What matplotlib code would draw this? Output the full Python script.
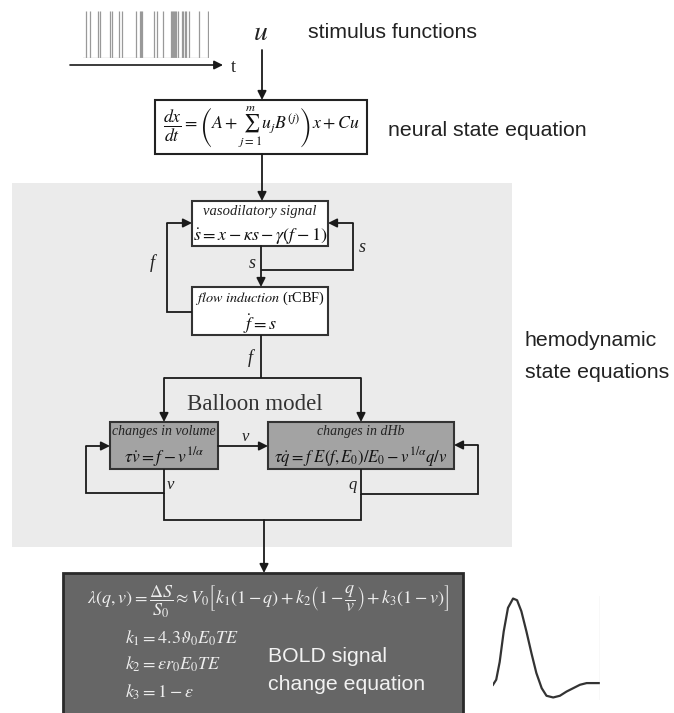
import matplotlib.pyplot as plt
from matplotlib.patches import Rectangle

plt.rcParams['mathtext.fontset'] = 'stix'
plt.rcParams['font.family'] = ['Liberation Sans', 'DejaVu Sans']

# stimulus onsets (arbitrary time units, 0-100)
spike_times = [2.6, 5.3, 11.8, 13.7, 21.1, 23.4, 28.9, 31.1, 42.1, 45.3, 46.1, 46.8,
               56.6, 58.9, 63.7, 69.7, 70.5, 71.6, 72.4, 73.2, 74.2, 75.0, 78.2,
               79.5, 80.8, 82.1, 83.9, 92.1, 99.2]

# BOLD response sketch (s, normalised signal)
bold_t = [0, 0.6, 1.25, 2.0, 2.8, 3.75, 4.5, 5.3, 6.25, 7.2, 8.1, 9.1, 10,
          11.25, 12.5, 13.75, 15, 16.25, 17.5, 19.1, 20]
bold_y = [-0.02, 0.04, 0.25, 0.61, 0.89, 1.0, 0.98, 0.85, 0.61, 0.35, 0.12, -0.06,
          -0.15, -0.17, -0.15, -0.10, -0.06, -0.02, 0.0, 0.0, 0.0]

W, H = 674, 713
fig = plt.figure(figsize=(W / 100, H / 100), dpi=100)
ax = fig.add_axes([0, 0, 1, 1])
ax.set_xlim(0, W)
ax.set_ylim(H, 0)
ax.axis('off')

LC = '#1a1a1a'


def line(pts, lw=1.3):
    xs, ys = zip(*pts)
    ax.plot(xs, ys, color=LC, lw=lw, solid_capstyle='butt', solid_joinstyle='miter')


def arrow(pts, lw=1.3):
    if len(pts) > 2:
        line(pts[:-1], lw)
    ax.annotate('', xy=pts[-1], xytext=pts[-2],
                arrowprops=dict(arrowstyle='-|>', color=LC, lw=lw, mutation_scale=13,
                                shrinkA=0, shrinkB=0))


def box(x0, y0, x1, y1, fc, ec='#333333', lw=1.5):
    ax.add_patch(Rectangle((x0, y0), x1 - x0, y1 - y0, fc=fc, ec=ec, lw=lw))


def serif(x, y, s, size, italic=False, color='#222222', ha='center'):
    ax.text(x, y, s, fontsize=size, ha=ha, va='center', color=color,
            family='Liberation Serif', style='italic' if italic else 'normal')


def sans(x, y, s, size=15.3, color='#222222', ha='left'):
    ax.text(x, y, s, fontsize=size, ha=ha, va='center', color=color)


# --- stimulus train ---
ax_s = fig.add_axes([83 / W, 1 - 58 / H, 126 / W, 47 / H])
ax_s.vlines(spike_times, 0, 1, color='#999999', lw=0.9)
ax_s.axhline(0, color='#bbbbbb', lw=1)
ax_s.set_xlim(0, 100)
ax_s.set_ylim(0, 1)
ax_s.axis('off')
arrow([(70, 65), (223, 65)], lw=1.2)
serif(233, 67, 't', 13)
ax.text(261, 33, r'$u$', fontsize=20, ha='center', va='center', color='#222222')
sans(308, 32, 'stimulus functions')
arrow([(262, 50), (262, 100)])

# --- neural box ---
box(155, 100, 367, 154, 'white', ec='#222222')
ax.text(261, 127, r'$\dfrac{dx}{dt} = \left(A + \sum_{j=1}^{m} u_j B^{(j)}\right)x + Cu$',
        fontsize=12.8, ha='center', va='center', color='#111111')
sans(388, 131, 'neural state equation')
arrow([(262, 154), (262, 201)])

# --- hemodynamic background ---
ax.add_patch(Rectangle((12, 183), 500, 364, fc='#ebebeb', ec='none', zorder=0))
sans(525, 340, 'hemodynamic')
sans(525, 372, 'state equations')

# vasodilatory signal
box(192, 201, 328, 246, 'white')
serif(260, 212, 'vasodilatory signal', 10.5, italic=True)
ax.text(260, 236, r'$\dot{s} = x - \kappa s - \gamma(f-1)$', fontsize=13,
        ha='center', va='center', color='#111111')
arrow([(261, 246), (261, 287)])
line([(261, 270), (353, 270), (353, 223)])
arrow([(353, 223), (328, 223)])
serif(362, 248, 's', 13, italic=True)
serif(252, 264, 's', 13, italic=True)

# flow induction
box(192, 287, 328, 335, 'white')
ax.text(260, 298, r'$\mathit{flow\ induction}\ $(rCBF)', fontsize=10.3, ha='center', va='center',
        color='#111111', family='Liberation Serif')
ax.text(260, 324, r'$\dot{f} = s$', fontsize=13, ha='center', va='center', color='#111111')
line([(192, 312), (167, 312), (167, 223)])
arrow([(167, 223), (192, 223)])
serif(152, 263, 'f', 13, italic=True)

# split into balloon model
line([(261, 335), (261, 378)])
serif(250, 358, 'f', 13, italic=True)
line([(164, 378), (361, 378)])
arrow([(164, 378), (164, 422)])
arrow([(361, 378), (361, 422)])
serif(255, 405, 'Balloon model', 16.5, color='#333333')

# changes in volume
box(110, 422, 218, 469, '#a3a3a3')
serif(164, 432, 'changes in volume', 10, italic=True)
ax.text(164, 457, r'$\tau\dot{v} = f - v^{1/\alpha}$', fontsize=12.5, ha='center',
        va='center', color='#111111')
arrow([(218, 446), (268, 446)])
serif(245, 437, 'v', 12, italic=True)
line([(164, 469), (164, 493), (86, 493), (86, 446)])
arrow([(86, 446), (110, 446)])
serif(170, 485, 'v', 12, italic=True)

# changes in dHb
box(268, 422, 454, 469, '#a3a3a3')
serif(361, 432, 'changes in dHb', 10, italic=True)
ax.text(361, 457, r'$\tau\dot{q} = f\ E(f,E_0)/E_0 - v^{1/\alpha}q/v$', fontsize=12,
        ha='center', va='center', color='#111111')
line([(361, 469), (361, 494), (478, 494), (478, 445)])
arrow([(478, 445), (454, 445)])
serif(353, 485, 'q', 12, italic=True)

# merge to BOLD
line([(164, 493), (164, 520), (361, 520), (361, 494)])
arrow([(264, 520), (264, 573)])

# --- BOLD box ---
box(63, 573, 463, 720, '#666666', ec='#2a2a2a', lw=2)
EC = '#eeeeee'
ax.text(268, 602, r'$\lambda(q,v) = \dfrac{\Delta S}{S_0} \approx V_0\left[k_1(1-q) + '
        r'k_2\left(1-\dfrac{q}{v}\right) + k_3(1-v)\right]$',
        fontsize=13, ha='center', va='center', color=EC)
ax.text(125, 638, r'$k_1 = 4.3\vartheta_0 E_0 TE$', fontsize=13, ha='left', va='center', color=EC)
ax.text(125, 664, r'$k_2 = \varepsilon r_0 E_0 TE$', fontsize=13, ha='left', va='center', color=EC)
ax.text(125, 692, r'$k_3 = 1-\varepsilon$', fontsize=13, ha='left', va='center', color=EC)
sans(268, 657, 'BOLD signal', color='#f2f2f2')
sans(268, 685, 'change equation', color='#f2f2f2')

# --- BOLD response sketch ---
ax_b = fig.add_axes([493 / W, 1 - 700 / H, 107 / W, 104 / H])
ax_b.plot(bold_t, bold_y, color='#333333', lw=1.6)
ax_b.axvline(20, color='#dddddd', lw=1)
ax_b.set_xlim(0, 20)
ax_b.set_ylim(-0.2, 1.03)
ax_b.axis('off')

fig.savefig('out.png', dpi=100)
